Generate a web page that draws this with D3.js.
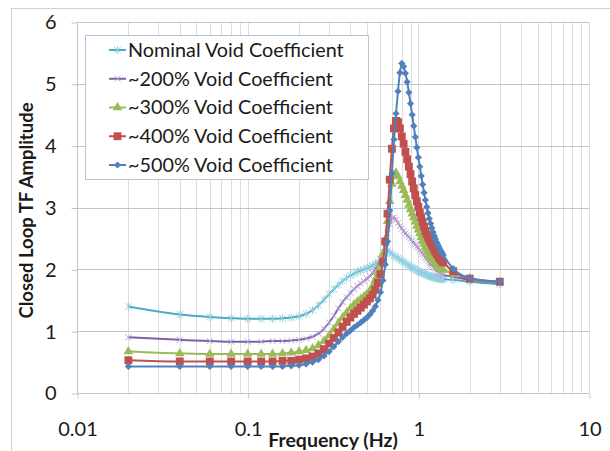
<!DOCTYPE html>
<html><head><meta charset="utf-8">
<script src="https://cdn.jsdelivr.net/npm/d3@7"></script>
<style>
body{margin:0;background:#fff}
svg{display:block}
text{font-family:Lato,"Open Sans",sans-serif;fill:#1a1a1a}
</style>
</head><body>
<svg id="c" width="610" height="451"></svg>
<script>
// ---- data ----
const freqs = [0.02,0.04,0.06,0.08,0.10,0.12,0.14,0.16,0.18,0.20,
0.22,0.24,0.26,0.28,0.30,0.32,0.34,0.36,0.38,0.40,
0.42,0.44,0.46,0.48,0.50,0.52,0.54,0.56,0.58,0.60,
0.62,0.64,0.66,0.68,0.70,0.72,0.74,0.76,0.78,0.80,
0.82,0.84,0.86,0.88,0.90,0.92,0.94,0.96,0.98,1.00,
1.02,1.04,1.06,1.08,1.10,1.12,1.14,1.16,1.18,1.20,
1.22,1.24,1.26,1.28,1.30,1.32,1.34,1.36,1.38,1.40,
1.6,2,3];
const nominal = [1.40,1.27,1.23,1.21,1.20,1.20,1.20,1.21,1.22,1.24,
1.28,1.34,1.42,1.51,1.60,1.68,1.75,1.81,1.86,1.90,
1.93,1.96,1.98,2.00,2.02,2.04,2.06,2.09,2.12,2.16,
2.21,2.27,2.30,2.28,2.25,2.22,2.20,2.18,2.16,2.14,
2.12,2.10,2.08,2.06,2.04,2.03,2.01,2.00,1.98,1.97,
1.96,1.95,1.94,1.93,1.92,1.91,1.90,1.89,1.89,1.88,
1.87,1.87,1.86,1.86,1.85,1.85,1.85,1.84,1.84,1.84,
1.83,1.80,1.76];
const void200 = [0.90,0.86,0.84,0.83,0.83,0.83,0.84,0.84,0.85,0.86,
0.88,0.91,0.96,1.04,1.14,1.25,1.37,1.47,1.55,1.62,
1.68,1.73,1.77,1.81,1.85,1.89,1.94,2.00,2.08,2.17,
2.28,2.42,2.58,2.73,2.83,2.84,2.80,2.75,2.70,2.66,
2.62,2.58,2.55,2.52,2.49,2.46,2.43,2.40,2.37,2.34,
2.31,2.28,2.25,2.22,2.19,2.16,2.13,2.10,2.08,2.06,
2.04,2.02,2.00,1.98,1.96,1.95,1.94,1.93,1.92,1.91,
1.88,1.83,1.78];
const void300 = [0.67,0.64,0.63,0.63,0.63,0.63,0.63,0.64,0.65,0.67,
0.69,0.72,0.77,0.84,0.93,1.03,1.13,1.22,1.30,1.37,
1.43,1.48,1.52,1.56,1.60,1.65,1.73,1.83,1.95,2.08,
2.25,2.48,2.78,3.10,3.38,3.53,3.56,3.50,3.42,3.35,
3.28,3.20,3.12,3.04,2.97,2.90,2.84,2.77,2.70,2.64,
2.58,2.52,2.46,2.41,2.36,2.32,2.28,2.24,2.21,2.18,
2.15,2.12,2.10,2.08,2.06,2.04,2.02,2.01,2.00,1.99,
1.93,1.85,1.79];
const void400 = [0.53,0.51,0.51,0.51,0.51,0.51,0.51,0.52,0.52,0.54,
0.56,0.59,0.64,0.71,0.80,0.89,0.98,1.07,1.15,1.22,
1.28,1.33,1.38,1.43,1.48,1.53,1.59,1.67,1.78,1.92,
2.12,2.45,2.90,3.45,3.95,4.28,4.40,4.38,4.28,4.15,
4.03,3.90,3.78,3.66,3.54,3.42,3.31,3.20,3.10,3.01,
2.92,2.84,2.76,2.69,2.62,2.57,2.52,2.48,2.44,2.40,
2.36,2.32,2.29,2.26,2.23,2.20,2.17,2.15,2.13,2.11,
1.97,1.85,1.80];
const void500 = [0.43,0.43,0.43,0.43,0.43,0.43,0.43,0.43,0.44,0.45,
0.47,0.50,0.54,0.60,0.67,0.75,0.83,0.90,0.96,1.01,
1.06,1.10,1.14,1.18,1.22,1.27,1.33,1.40,1.50,1.63,
1.82,2.08,2.45,2.95,3.55,4.10,4.52,4.88,5.18,5.33,
5.28,5.17,5.03,4.86,4.68,4.50,4.32,4.14,3.97,3.81,
3.66,3.51,3.37,3.24,3.12,3.01,2.91,2.82,2.74,2.67,
2.60,2.54,2.49,2.44,2.40,2.36,2.32,2.29,2.26,2.23,
2.01,1.86,1.80];
const seriesNames = ["Nominal Void Coefficient","~200% Void Coefficient","~300% Void Coefficient","~400% Void Coefficient","~500% Void Coefficient"];
const yTicks = [0,1,2,3,4,5,6];
const xTicks = [0.01,0.1,1,10];
const xTickLabels = ["0.01","0.1","1","10"];

// ---- styles ----
const symStar = {draw(ctx,size){const r=Math.sqrt(size)/2;ctx.moveTo(-r,-r);ctx.lineTo(r,r);ctx.moveTo(-r,r);ctx.lineTo(r,-r);ctx.moveTo(0,-r*1.25);ctx.lineTo(0,r*1.25);}};
const symX = {draw(ctx,size){const r=Math.sqrt(size)/2;ctx.moveTo(-r,-r);ctx.lineTo(r,r);ctx.moveTo(-r,r);ctx.lineTo(r,-r);}};
const styles = [
  {line:"#4bacc6", sym:symStar, size:42, fill:"none", stroke:"#8fd0e2", sw:1, rot:0},
  {line:"#7e5ea6", sym:symX, size:36, fill:"none", stroke:"#b7a5d3", sw:1, rot:0},
  {line:"#9bbb59", sym:d3.symbolTriangle, size:40, fill:"#9bbb59", stroke:"none", sw:0, rot:0},
  {line:"#c0504d", sym:d3.symbolSquare, size:62, fill:"#c0504d", stroke:"none", sw:0, rot:0},
  {line:"#4f81bd", sym:d3.symbolSquare, size:26, fill:"#4f81bd", stroke:"none", sw:0, rot:45}
];
const allValues = [nominal, void200, void300, void400, void500];

const svg = d3.select("#c");
const L=77, R=589, T=22, B=393;
const x = d3.scaleLog().domain([0.01,10]).range([L,R]);
const y = d3.scaleLinear().domain([0,6]).range([B,T]);

// chart border
svg.append("rect").attr("x",11.5).attr("y",8.5).attr("width",700).attr("height",600)
  .attr("fill","#fff").attr("stroke","#d0d0d0");

// vertical grid (major + minor)
svg.append("g").selectAll("line").data(x.ticks()).join("line")
  .attr("x1",d=>Math.round(x(d))+0.5).attr("x2",d=>Math.round(x(d))+0.5)
  .attr("y1",T).attr("y2",B).attr("stroke","#dcdcdc").attr("stroke-width",1);
// horizontal grid
svg.append("g").selectAll("line").data(yTicks).join("line")
  .attr("x1",L).attr("x2",R).attr("y1",d=>Math.round(y(d))+0.5).attr("y2",d=>Math.round(y(d))+0.5)
  .attr("stroke","#c4c4c4").attr("stroke-width",1);
// left axis line
svg.append("line").attr("x1",L+0.5).attr("x2",L+0.5).attr("y1",T).attr("y2",B).attr("stroke","#c4c4c4");

// axes
const yAxis = svg.append("g").attr("transform",`translate(${L+0.5},0.5)`)
  .call(d3.axisLeft(y).tickValues(yTicks).tickSize(6).tickPadding(15).tickFormat(d3.format("d")));
yAxis.select(".domain").remove();
yAxis.selectAll(".tick line").attr("stroke","#c4c4c4");
yAxis.selectAll("text").attr("font-size",20).attr("font-family","Lato").attr("fill","#1a1a1a");

const xAxis = svg.append("g").attr("transform",`translate(0.5,${B+0.5})`)
  .call(d3.axisBottom(x).tickValues(xTicks).tickSize(5).tickFormat((d,i)=>xTickLabels[i]));
xAxis.select(".domain").remove();
xAxis.selectAll(".tick line").attr("stroke","#c4c4c4");
xAxis.selectAll("text").attr("font-size",20).attr("font-family","Lato").attr("fill","#1a1a1a")
  .attr("y",42).attr("dy","0");

// axis titles
svg.append("text").attr("x",(L+R)/2).attr("y",447).attr("text-anchor","middle")
  .attr("font-size",19.5).attr("font-weight","bold").text("Frequency (Hz)");
svg.append("text").attr("transform",`translate(33,${(T+B)/2+3}) rotate(-90)`).attr("text-anchor","middle")
  .attr("font-size",18.5).attr("font-weight","bold").text("Closed Loop TF Amplitude");

// series
const line = d3.line().x(d=>x(d[0])).y(d=>y(d[1])).curve(d3.curveMonotoneX);
allValues.forEach((vals,i)=>{
  const st = styles[i];
  const pts = freqs.map((f,j)=>[f,vals[j]]);
  const g = svg.append("g");
  g.append("path").attr("d",line(pts)).attr("fill","none").attr("stroke",st.line).attr("stroke-width",2);
  g.selectAll("path.m").data(pts).join("path").attr("class","m")
    .attr("d",d3.symbol(st.sym,st.size))
    .attr("transform",d=>`translate(${x(d[0])},${y(d[1])}) rotate(${st.rot})`)
    .attr("fill",st.fill).attr("stroke",st.stroke).attr("stroke-width",st.sw);
});

// legend
const lg = svg.append("g");
lg.append("rect").attr("x",85.5).attr("y",35.5).attr("width",283).attr("height",144)
  .attr("fill","#fff").attr("stroke","#b4c6dc");
seriesNames.forEach((name,i)=>{
  const st = styles[i];
  const cy = 50 + i*28.75;
  lg.append("line").attr("x1",109).attr("x2",126).attr("y1",cy).attr("y2",cy)
    .attr("stroke",st.line).attr("stroke-width",2);
  lg.append("path").attr("d",d3.symbol(st.sym,st.size)())
    .attr("transform",`translate(117.5,${cy}) rotate(${st.rot})`)
    .attr("fill",st.fill).attr("stroke",st.stroke).attr("stroke-width",st.sw);
  lg.append("text").attr("x",128).attr("y",cy).attr("dy","0.35em")
    .attr("font-size",19.8).text(name);
});
</script>
</body></html>
